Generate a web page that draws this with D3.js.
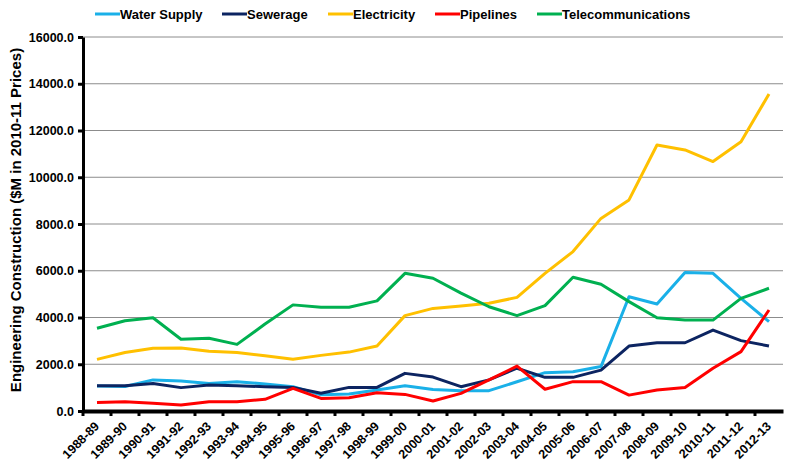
<!DOCTYPE html>
<html>
<head>
<meta charset="utf-8">
<script src="https://cdn.jsdelivr.net/npm/d3@7"></script>
<style>
  body { margin: 0; background: #fff; }
  text { font-family: "Liberation Sans", Arial, sans-serif; }
</style>
</head>
<body>
<svg id="chart"></svg>
<script>
const years = ["1988-89","1989-90","1990-91","1991-92","1992-93","1993-94","1994-95","1995-96",
  "1996-97","1997-98","1998-99","1999-00","2000-01","2001-02","2002-03","2003-04","2004-05",
  "2005-06","2006-07","2007-08","2008-09","2009-10","2010-11","2011-12","2012-13"];

const waterSupply = [1070,1050,1330,1280,1180,1250,1160,1040,690,730,900,1080,920,870,870,1250,1640,1680,1900,4890,4580,5930,5890,4820,3820];
const sewerage = [1080,1080,1180,1000,1110,1080,1040,1010,760,1010,1010,1610,1450,1040,1330,1830,1440,1440,1750,2780,2920,2920,3460,3010,2780];
const electricity = [2210,2500,2680,2700,2560,2500,2360,2210,2380,2520,2780,4080,4390,4490,4610,4860,5890,6820,8240,9030,11380,11170,10670,11520,13560];
const pipelines = [360,400,330,260,400,400,500,970,540,570,780,710,430,755,1330,1920,930,1255,1255,680,900,1010,1830,2540,4320];
const telecom = [3540,3860,3990,3070,3110,2850,3720,4540,4440,4440,4710,5890,5680,5040,4460,4080,4510,5720,5420,4680,3990,3890,3890,4820,5250];

const seriesNames = ["Water Supply","Sewerage","Electricity","Pipelines","Telecommunications"];
const seriesColors = ["#1AB0E8","#0C2461","#FFC000","#FF0000","#00B050"];
const seriesData = [waterSupply, sewerage, electricity, pipelines, telecom];
const yTicks = [0,2000,4000,6000,8000,10000,12000,14000,16000];

const width = 791;
const height = 466;
const margin = {top: 37, right: 8, bottom: 55, left: 83};

const svg = d3.select("#chart")
              .attr("width", width)
              .attr("height", height);

const x = d3.scaleBand()
            .domain(years)
            .range([margin.left, width - margin.right]);
const y = d3.scaleLinear()
            .domain([0, 16000])
            .range([height - margin.bottom, margin.top]);

// gridlines
svg.append("g")
   .selectAll("line")
   .data(yTicks.filter(d => d > 0))
   .enter().append("line")
     .attr("x1", margin.left)
     .attr("x2", width - margin.right)
     .attr("y1", d => y(d))
     .attr("y2", d => y(d))
     .attr("stroke", "#8c8c8c")
     .attr("stroke-width", 1);

// lines
const line = d3.line()
               .x((d, i) => x(years[i]) + x.bandwidth() / 2)
               .y(d => y(d));

svg.append("g")
   .selectAll("path")
   .data(seriesData)
   .enter().append("path")
     .attr("fill", "none")
     .attr("stroke", (d, i) => seriesColors[i])
     .attr("stroke-width", 3)
     .attr("stroke-linejoin", "round")
     .attr("d", line);

// y axis
const yAxis = svg.append("g")
   .attr("transform", `translate(${margin.left},0)`)
   .call(d3.axisLeft(y).tickValues(yTicks).tickFormat(d3.format(".1f")).tickSize(5).tickSizeOuter(0));
yAxis.select(".domain").attr("stroke", "#000").attr("stroke-width", 3);
yAxis.selectAll(".tick line").attr("stroke", "#000").attr("stroke-width", 3);
yAxis.selectAll(".tick text")
     .attr("x", -9)
     .style("font-size", "12.5px")
     .style("font-weight", "bold")
     .attr("fill", "#000");

// x axis
const xAxis = svg.append("g")
   .attr("transform", `translate(0,${height - margin.bottom})`)
   .call(d3.axisBottom(x).tickSize(0).tickSizeOuter(0));
xAxis.select(".domain").attr("stroke", "#000").attr("stroke-width", 4);
xAxis.selectAll(".tick text")
     .attr("text-anchor", "end")
     .attr("y", 0)
     .attr("dx", 0)
     .attr("dy", 0)
     .attr("transform", "translate(3,16) rotate(-45)")
     .style("font-size", "12.5px")
     .style("font-weight", "bold")
     .attr("fill", "#000");

// tick marks at band boundaries
svg.append("g")
   .selectAll("line")
   .data(years)
   .enter().append("line")
     .attr("x1", d => x(d))
     .attr("x2", d => x(d))
     .attr("y1", height - margin.bottom)
     .attr("y2", height - margin.bottom + 5)
     .attr("stroke", "#000")
     .attr("stroke-width", 3);

// y title
svg.append("text")
   .attr("transform", `translate(21,220) rotate(-90)`)
   .attr("text-anchor", "middle")
   .style("font-size", "15px")
   .style("font-weight", "bold")
   .attr("fill", "#000")
   .text("Engineering Construction ($M in 2010-11 Prices)");

// legend
const legendX = [95, 222, 328, 435, 537];
const legend = svg.append("g")
   .selectAll("g")
   .data(seriesNames)
   .enter().append("g")
     .attr("transform", (d, i) => `translate(${legendX[i]},14)`);
legend.append("line")
   .attr("x1", 0).attr("x2", 25)
   .attr("stroke", (d, i) => seriesColors[i])
   .attr("stroke-width", 3);
legend.append("text")
   .attr("x", 25)
   .attr("y", 5)
   .style("font-size", "13px")
   .style("font-weight", "bold")
   .attr("fill", "#000")
   .text(d => d);
</script>
</body>
</html>
